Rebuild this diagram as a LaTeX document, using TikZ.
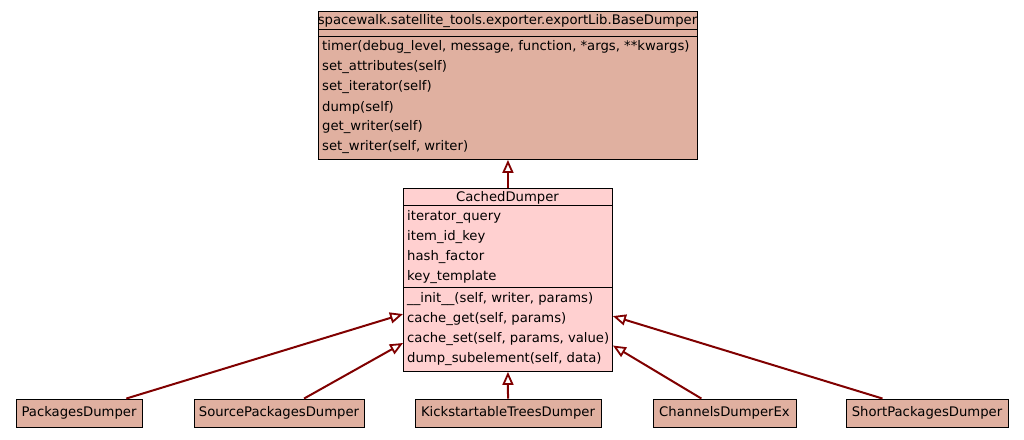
\documentclass[tikz,border=0pt]{standalone}
\usepackage{fontspec}
\setmainfont{DejaVu Sans}
\usetikzlibrary{arrows.meta}
\definecolor{basefill}{HTML}{E0B0A0}
\definecolor{cachedfill}{HTML}{FFD0D0}
\definecolor{edgered}{HTML}{800000}
\begin{document}
\begin{tikzpicture}[x=1pt,y=-1pt,
    font=\fontsize{13.2}{15}\selectfont,
    classbox/.style={draw=black, line width=0.9pt, inner sep=0pt, anchor=north west},
    leafbox/.style={draw=black, line width=0.9pt, fill=basefill, inner sep=0pt,
      minimum height=28pt},
    member/.style={anchor=west, inner sep=0pt},
    inherit/.style={draw=edgered, line width=2pt,
      -{Triangle[open,length=13pt,width=11pt,line width=1.8pt]}}]
  \useasboundingbox (0,0) rectangle (1024,439);
  % base class
  \node[classbox, fill=basefill, minimum width=379pt, minimum height=148pt] (base) at (318,11) {};
  \draw[line width=0.9pt] (318,29) -- (697,29) (318,36) -- (697,36);
  \node[inner sep=0pt] (basetitle) at (507.5,21) {spacewalk.satellite\_tools.exporter.exportLib.BaseDumper};
  \draw
    (322,47.5) node[member] (m1) {timer(debug\_level, message, function, *args, **kwargs)}
    (322,67.5) node[member] (m2) {set\_attributes(self)}
    (322,87.5) node[member] (m3) {set\_iterator(self)}
    (322,107.5) node[member] (m4) {dump(self)}
    (322,127.5) node[member] (m5) {get\_writer(self)}
    (322,147.5) node[member] (m6) {set\_writer(self, writer)};
  % cached dumper
  \node[classbox, fill=cachedfill, minimum width=209pt, minimum height=183pt] (cached) at (403,188) {};
  \draw[line width=0.9pt] (403,205) -- (612,205) (403,287) -- (612,287);
  \node[inner sep=0pt] (cachedtitle) at (507.5,197.5) {CachedDumper};
  \draw
    (407,217.5) node[member] (a1) {iterator\_query}
    (407,237.5) node[member] (a2) {item\_id\_key}
    (407,257.5) node[member] (a3) {hash\_factor}
    (407,277.5) node[member] (a4) {key\_template}
    (407,299.5) node[member] (c1) {\_\_init\_\_(self, writer, params)}
    (407,319.5) node[member] (c2) {cache\_get(self, params)}
    (407,339.5) node[member] (c3) {cache\_set(self, params, value)}
    (407,359.5) node[member] (c4) {dump\_subelement(self, data)};
  % subclasses
  \node[leafbox, minimum width=126pt] (pkg) at (79,413) {PackagesDumper};
  \node[leafbox, minimum width=170pt] (srcpkg) at (279,413) {SourcePackagesDumper};
  \node[leafbox, minimum width=186pt] (kstree) at (508,413) {KickstartableTreesDumper};
  \node[leafbox, minimum width=143pt] (chan) at (724.5,413) {ChannelsDumperEx};
  \node[leafbox, minimum width=162pt] (shortpkg) at (927,413) {ShortPackagesDumper};
  \begin{scope}[inherit]
    \draw (cached.north) to (base.south);
    \draw (pkg.17) to (cached.198);
    \draw (srcpkg.30) to (cached.211);
    \draw (kstree.north) to (cached.south);
    \draw (chan.148) to (cached.328);
    \draw (shortpkg.162) to (cached.341);
  \end{scope}
\end{tikzpicture}
\end{document}
